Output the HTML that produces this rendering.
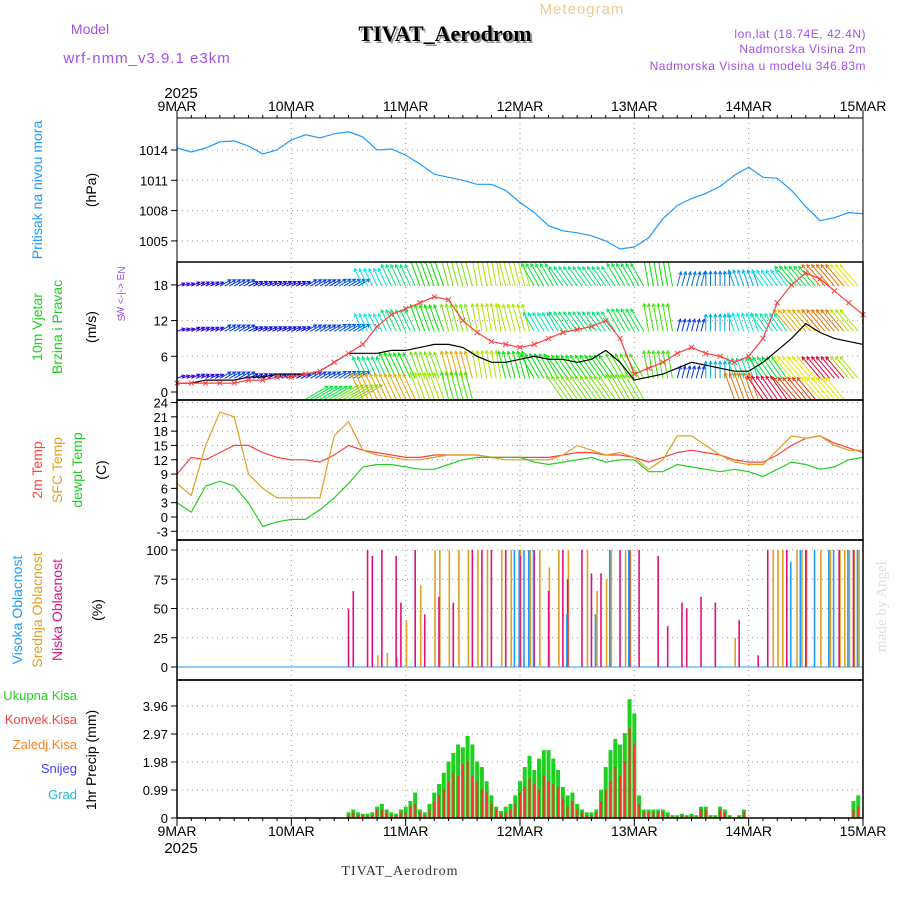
<!DOCTYPE html>
<html><head><meta charset="utf-8">
<style>
html,body{margin:0;padding:0;background:#fff;}
svg{display:block;font-family:"Liberation Sans",sans-serif;}
</style></head>
<body>
<svg id="chart" width="900" height="900" viewBox="0 0 900 900" xmlns="http://www.w3.org/2000/svg">
<defs><clipPath id="plotclip"><rect x="177" y="262" width="686" height="138"/></clipPath></defs>
<rect width="900" height="900" fill="#fff"/>
<text x="582" y="14" font-size="15" fill="#f0c890" text-anchor="middle" letter-spacing="1">Meteogram</text>
<text x="90" y="34" font-size="14" fill="#a050f0" text-anchor="middle">Model</text>
<text x="147" y="63" font-size="15" fill="#a050f0" text-anchor="middle" letter-spacing="1">wrf-nmm_v3.9.1 e3km</text>
<text x="447" y="43" font-size="22" font-weight="bold" font-family="Liberation Serif,serif" fill="#999" text-anchor="middle">TIVAT_Aerodrom</text>
<text x="445" y="41" font-size="22" font-weight="bold" font-family="Liberation Serif,serif" fill="#000" text-anchor="middle">TIVAT_Aerodrom</text>
<text x="866" y="38" font-size="12" fill="#a050f0" text-anchor="end" letter-spacing="0.5">lon,lat (18.74E, 42.4N)</text>
<text x="866" y="53" font-size="12" fill="#a050f0" text-anchor="end" letter-spacing="0.5">Nadmorska Visina 2m</text>
<text x="866" y="70" font-size="12" fill="#a050f0" text-anchor="end" letter-spacing="0.5">Nadmorska Visina u modelu 346.83m</text>
<text transform="translate(886,652) rotate(-90)" font-size="15" font-family="Liberation Serif,serif" fill="#d8e4d8">made by Angel</text>
<text x="400" y="875" font-size="14" font-family="Liberation Serif,serif" fill="#333" text-anchor="middle" letter-spacing="1">TIVAT_Aerodrom</text>
<g id="g"></g>
</svg>
<script>
// ---------- data ----------
const dayLabels = ["9MAR","10MAR","11MAR","12MAR","13MAR","14MAR","15MAR"];
const pressure3h = [1014.2,1013.8,1014.2,1014.8,1014.9,1014.4,1013.6,1014.0,
 1015.0,1015.5,1015.2,1015.6,1015.8,1015.3,1014.0,1014.1,
 1013.5,1012.6,1011.6,1011.3,1011.0,1010.6,1010.6,1010.0,
 1008.8,1007.8,1006.5,1006.0,1005.8,1005.5,1005.0,1004.2,
 1004.4,1005.3,1007.2,1008.5,1009.2,1009.7,1010.4,1011.5,
 1012.3,1011.3,1011.2,1010.0,1008.4,1007.0,1007.3,1007.8,1007.7];
const pressureTicks = [1005,1008,1011,1014];
const windSpeed3h = [1.5,1.5,2,2,2,2.5,2.5,3, 3,3,3.5,5,6.5,6.5,6.5,7, 7,7.5,8,8,7.5,6,5,5, 5.5,6,5.5,5.5,5,5.5,7,5, 2,2.5,3,4,5,4.5,4,3.5, 3.5,5,7,9,11.5,10,9,8.5,8];
const gust3h = [1.5,1.5,1.5,1.5,1.5,2,2,2.5, 2.5,3,3.5,5,6.5,8,11,13, 14,15,16,15.5,12,10,8.5,8, 7.5,8,9,10,10.5,11,12,9, 3,4,5,6.5,7.5,6.5,6,5, 6,9,15,18,20,19,17,15,13];
const windTicks = [0,6,12,18];
const rowLevels = [17.8,10.2,2.3,-1.2];
const rowSpeeds = [
 [1,1.5,3,2,2,3,3.5,6,8,10,12,13,13,9,8,8,9,10,4,4,5,6,9,16,14],
 [1,1.5,3,2,2,3,3.5,6,8,10,12,13,13,7,8,8,9,11,3,5,6,7,15,16,13],
 [1,1.5,3,2,2,3,3.5,8,10,12,15,13,10,10,10,10,11,11,3,5,7,9,14,19,13],
 [null,null,null,null,null,9,12,15,15,13,11,null,null,null,12,12,12,null,null,null,16,19,17,14,null]];
const rowDirs = [20,25,30,25,25,30,30,115,115,110,105,100,105,120,125,125,120,100,75,90,110,125,130,130,130];
const t2m3h = [9,12.5,12,13.5,15,15,13.5,12.5, 12,12,11.5,13,15,14,13.5,13, 12.5,12.5,13,13,13,13,12.5,12.5, 12.5,12.5,12.5,13,13.5,13.5,13,13, 12.5,11.5,12.5,13.5,14,13.5,13,12, 11.5,11.5,13,15,16.5,17,15.5,14.5,13.5];
const sfc3h = [7,4.5,15,22,21,9,6,4, 4,4,4,17,20,14,13,12.5, 12,12,12.5,13,13,13,12.5,12, 12,12,12,13,15,14,13,13.5, 12.5,10,12,17,17,15,13,11.5, 11,11,14,17,16.5,17,15,14,14];
const dew3h = [3,1,6.5,7.5,6.5,3,-2,-1, -0.5,-0.5,1.5,4,7,10.5,11,11, 10.5,10,10,11,12,12.5,12.5,12.5, 12.5,11.5,11,11.5,12,12.5,11.5,12, 12,9.5,9.5,11,10.5,10,9.5,10, 9.5,8.5,10,11.5,11,10,10.5,12,12.5];
const tempTicks = [-3,0,3,6,9,12,15,18,21,24];
const lowHours = [36,37,40,41,43,46,47,50,52,55,58,62,64,66,69,72,75,78,81,82,85,87,89,93,95,97,101,103,106,107,110,113,118,122,124,128,132,139,142];
const lowVals  = [50,65,100,95,100,95,55,100,45,60,55,100,100,100,100,95,100,65,100,75,100,80,80,100,100,100,95,35,55,50,60,55,40,10,100,100,100,100,100];
const midHours = [42,44,46,48,51,54,55,57,59,61,63,65,68,70,72,74,76,78,80,82,86,88,90,91,94,95,117,125,126,127,130,131,132,135,137,139,140,141,142,143];
const midVals  = [10,12,8,40,70,100,100,100,100,100,100,100,100,100,100,100,100,85,100,100,100,65,75,100,100,100,25,100,100,100,100,100,100,100,100,100,100,100,100,100];
const highHours = [71,72,73,74,75,82,88,91,95,129,131,134,137,138,141,143];
const highVals  = [100,100,100,100,100,45,45,100,100,90,100,100,100,100,100,100];
const cloudTicks = [0,25,50,75,100];
const precipStart = 36;
const precipTotal = [.2,.3,.2,.15,.15,.2,.4,.5,.3,.2,.15,.3,.4,.6,.9,.3,.2,.5,.9,1.2,1.6,2.0,2.3,2.6,2.5,2.9,2.6,2.0,1.8,1.3,.8,.4,.25,.4,.5,.8,1.3,1.8,2.2,1.7,2.1,2.4,2.4,2.1,1.7,1.1,.8,.9,.5,.3,.2,.2,.3,1.0,1.8,2.4,2.8,2.6,3.0,4.2,3.7,.8,.3,.3,.3,.3,.3,.2,.1,.1,.15,.1,.15,.1,.4,.4,.1,.1,.4,.3,.1,0,.1,.3,0,0,0,0,0,0,0,0,0,0,0,0,0,0,0,0,0,0,0,0,0,0,.6,.8];
const precipConv  = [.1,.2,.1,.1,.1,.1,.3,.3,.2,.1,.1,.2,.2,.4,.5,.2,.1,.3,.6,.8,1.0,1.3,1.6,1.5,1.9,2.0,1.5,1.3,1.0,.9,.5,.3,.15,.2,.3,.5,.9,1.1,1.4,1.2,1.0,1.5,1.3,1.2,1.1,.7,.4,.6,.3,.2,.1,.1,.2,.6,1.0,1.3,1.8,1.5,2.0,3.2,2.6,.5,.2,.2,.2,.2,.2,.1,.05,.05,.1,.05,.1,.05,.3,.3,.05,.05,.3,.2,.05,0,.05,.2,0,0,0,0,0,0,0,0,0,0,0,0,0,0,0,0,0,0,0,0,0,0,.3,.4];
const precipTicks = [0,0.99,1.98,2.97,3.96];

// ---------- layout ----------
const X0=177, X1=863;
const xH = h => X0 + (X1-X0)*h/144;
const panels = [
 {top:118,bot:262},{top:262,bot:400},{top:400,bot:540},{top:540,bot:680},{top:680,bot:818}];
const yP = v => 150 + (1014 - v)*10.1;
const yW = v => 392 - v*5.95;
const yT = v => 517 - v*4.77;
const yC = v => 667 - v*1.17;
const yR = v => 818 - v*(112/3.96);

const g = document.getElementById('g');
const NS = 'http://www.w3.org/2000/svg';
function mk(tag, attrs, parent){ const e=document.createElementNS(NS,tag); for(const k in attrs) e.setAttribute(k,attrs[k]); (parent||g).appendChild(e); return e; }
function txt(s, attrs, name){ const e=mk('text',attrs); e.textContent=s;
 
  return e; }

function grid(top,bot,ticks,yf,fmt,name){
 ticks.forEach(t=>{ const y=yf(t);
  const l=mk('line',{x1:X0,x2:X1,y1:y,y2:y,stroke:'#999','stroke-dasharray':'1,4'});
  
  
  mk('line',{x1:X0-6,x2:X0,y1:y,y2:y,stroke:'#000'});
  txt(fmt(t),{x:X0-9,y:y+5,'font-size':13,'text-anchor':'end',fill:'#000'}, name+'-tick-label');
 });
 for(let d=1;d<6;d++){ const x=xH(d*24);
  const l=mk('line',{x1:x,x2:x,y1:top,y2:bot,stroke:'#999','stroke-dasharray':'1,4'});
  
  
 }
}
grid(118,262,pressureTicks,yP,String,'pressure');
grid(262,400,windTicks,yW,String,'wind');
grid(400,540,tempTicks,yT,String,'temp');
grid(540,680,cloudTicks,yC,String,'cloud');
grid(680,818,precipTicks,yR,v=>String(v),'precip');

function line(arr,step,yf,color,name,w){
 const pts=arr.map((v,i)=>xH(i*step).toFixed(1)+','+yf(v).toFixed(1)).join(' ');
 const p=mk('polyline',{points:pts,fill:'none',stroke:color,'stroke-width':w||1.2});
 
 
 return p;
}
line(pressure3h,3,yP,'#1e9bff','pressure-line');

// wind arrows
const hue = s => (270 - s*15 + 360) % 360;
const wg = mk('g',{'clip-path':'url(#plotclip)'});


rowLevels.forEach((lvl,ri)=>{
 const sp=rowSpeeds[ri];
 for(let h=0;h<144;h++){
  const k=Math.round(h/6);
  const s=sp[k];
  if(s==null) continue;
  const L=Math.min(6+s*2.2,28);
  const ang=rowDirs[k]*Math.PI/180;
  const x=xH(h), y=yW(lvl);
  const x2=x+L*Math.cos(ang), y2=y-L*Math.sin(ang);
  const c='hsl('+hue(s)+',100%,45%)';
  const a=mk('line',{x1:x,y1:y,x2:x2,y2:y2,stroke:c,'stroke-width':1},wg);
  
  
  const hl=3.5, a1=ang+Math.PI-0.5, a2=ang+Math.PI+0.5;
  const hd=mk('path',{d:`M${x2+hl*Math.cos(a1)},${y2-hl*Math.sin(a1)}L${x2},${y2}L${x2+hl*Math.cos(a2)},${y2-hl*Math.sin(a2)}`,fill:'none',stroke:c,'stroke-width':1},wg);
  
  
 }
});
line(windSpeed3h,3,yW,'#000','wind-speed-line',1.2);
line(gust3h,3,yW,'#ff4040','wind-gust-line',1.2);
gust3h.forEach((v,i)=>{ const x=xH(i*3), y=yW(v);
 const m=mk('path',{d:`M${x-2.5},${y-2.5}L${x+2.5},${y+2.5}M${x-2.5},${y+2.5}L${x+2.5},${y-2.5}`,stroke:'#ff4040','stroke-width':1});
 
 
});

line(t2m3h,3,yT,'#ff4040','temp-2m-line');
line(sfc3h,3,yT,'#e0a020','temp-sfc-line');
line(dew3h,3,yT,'#20d020','dewpoint-line');

const base=mk('line',{x1:X0,x2:X1,y1:yC(0),y2:yC(0),stroke:'#1e9bff','stroke-width':1});


function cbars(hours,vals,color,off,name){
 hours.forEach((h,i)=>{ const x=xH(h)+off;
  const b=mk('line',{x1:x,x2:x,y1:yC(0),y2:yC(vals[i]),stroke:color,'stroke-width':1.6});
  
  
 });
}
cbars(midHours,midVals,'#e0a020',0.8,'mid-cloud-bar');
cbars(lowHours,lowVals,'#e0107f',0,'low-cloud-bar');
cbars(highHours,highVals,'#1e9bff',-0.8,'high-cloud-bar');

precipTotal.forEach((v,i)=>{ if(!v) return; const x=xH(precipStart+i);
 const b=mk('rect',{x:x-2,y:yR(v),width:4,height:yR(0)-yR(v),fill:'#20d020'});
 
 
 const c=precipConv[i]; if(c){ const r=mk('rect',{x:x-1,y:yR(c),width:2,height:yR(0)-yR(c),fill:'#ff3030'});
  
   }
});

panels.forEach((p,i)=>{ const r=mk('rect',{x:X0,y:p.top,width:X1-X0,height:p.bot-p.top,fill:'none',stroke:'#000','stroke-width':i===0?1:1.5});
 
  });
for(let h=0;h<=144;h+=3){ const x=xH(h); const big=h%24===0;
 mk('line',{x1:x,x2:x,y1:118,y2:118-(big?8:3),stroke:'#000'});
 mk('line',{x1:x,x2:x,y1:818,y2:818+(big?8:3),stroke:'#000'});
}
dayLabels.forEach((d,i)=>{ const x=xH(i*24);
 txt(d,{x:x,y:111,'font-size':14,'text-anchor':'middle',fill:'#000'},'top-day-label');
 txt(d,{x:x,y:836,'font-size':14,'text-anchor':'middle',fill:'#000'},'bottom-day-label');
});
txt('2025',{x:181,y:98,'font-size':15,'text-anchor':'middle',fill:'#000'},'top-year-label');
txt('2025',{x:181,y:853,'font-size':15,'text-anchor':'middle',fill:'#000'},'bottom-year-label');

function vt(s,x,y,color,name,size){ txt(s,{transform:`translate(${x},${y}) rotate(-90)`,'font-size':size||14,'text-anchor':'middle',fill:color},name); }
vt('Pritisak na nivou mora',42,190,'#1e9bff','pressure-axis-title');
vt('(hPa)',96,190,'#000','pressure-unit');
vt('10m Vjetar',42,327,'#20d020','wind-axis-title');
vt('Brzina i Pravac',62,327,'#20d020','wind-axis-subtitle');
vt('(m/s)',96,327,'#000','wind-unit');
vt('N',125,270,'#a050f0','wind-compass-n',10);
vt('W  <-|->  E',124,295,'#a050f0','wind-compass',10);
vt('S',125,318,'#a050f0','wind-compass-s',10);
vt('2m Temp',42,470,'#ff4040','temp-2m-title');
vt('SFC Temp',62,470,'#e0a020','temp-sfc-title');
vt('dewpt Temp',82,470,'#20d020','dewpoint-title');
vt('(C)',106,470,'#000','temp-unit');
vt('Visoka Oblacnost',22,610,'#1e9bff','high-cloud-title');
vt('Srednja Oblacnost',42,610,'#e0a020','mid-cloud-title');
vt('Niska Oblacnost',62,610,'#e0107f','low-cloud-title');
vt('(%)',102,610,'#000','cloud-unit');
vt('1hr Precip (mm)',96,760,'#000','precip-axis-title');
const leg=[['Ukupna Kisa','#20d020',700],['Konvek.Kisa','#ff4040',724],['Zaledj.Kisa','#ff8020',749],['Snijeg','#4040ff',773],['Grad','#20c0d0',799]];
leg.forEach(l=>txt(l[0],{x:77,y:l[2],'font-size':13,'text-anchor':'end',fill:l[1]},'precip-legend-entry'));
</script>
</body></html>
